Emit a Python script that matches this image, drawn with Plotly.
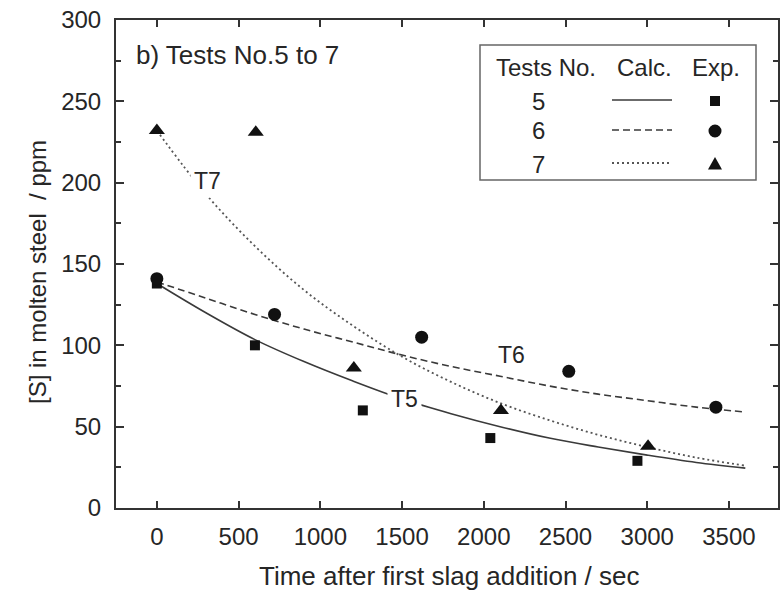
import plotly.graph_objects as go

# ---- data ----
t5_exp = [0, 600, 1260, 2040, 2940]
s5_exp = [138, 100, 60, 43, 29]
t6_exp = [0, 720, 1620, 2520, 3420]
s6_exp = [141, 119, 105, 84, 62]
t7_exp = [0, 605, 1205, 2105, 3005]
s7_exp = [232, 231, 86, 60, 38]

t_calc = [0, 300, 600, 900, 1200, 1500, 1800, 2100, 2400, 2700, 3000, 3300, 3600]
s5_calc = [138, 120, 103.5, 90, 78, 67, 58, 50, 43, 37.5, 32.5, 28, 24.5]
s6_calc = [139, 129, 119, 110, 102, 94, 87, 81, 75, 70, 66, 62, 59]
s7_calc = [232, 193, 161, 134, 112, 93, 77.5, 64.5, 54, 45, 37.5, 31, 26]

tests = ["5", "6", "7"]

FONT = "Liberation Sans, Arial, sans-serif"
TXT = "#262626"
LINE = "#3a3a3a"
MK = "#111111"

fig = go.Figure()

# calculated curves
fig.add_trace(go.Scatter(x=t_calc, y=s5_calc, mode="lines", line=dict(color=LINE, width=1.6, shape="spline"), showlegend=False))
fig.add_trace(go.Scatter(x=t_calc, y=s6_calc, mode="lines", line=dict(color=LINE, width=1.6, dash="7px,4px", shape="spline"), showlegend=False))
fig.add_trace(go.Scatter(x=t_calc, y=s7_calc, mode="lines", line=dict(color="#555555", width=1.8, dash="2px,3px", shape="spline"), showlegend=False))

# experimental points
fig.add_trace(go.Scatter(x=t5_exp, y=s5_exp, mode="markers", marker=dict(symbol="square", size=10, color=MK), showlegend=False))
fig.add_trace(go.Scatter(x=t6_exp, y=s6_exp, mode="markers", marker=dict(symbol="circle", size=13, color=MK), showlegend=False))
fig.add_trace(go.Scatter(x=t7_exp, y=s7_exp, mode="markers", marker=dict(symbol="triangle-up", size=14, color=MK), showlegend=False))

# ---- legend table (paper coords of plot area) ----
W, H, L, T = 662.0, 488.0, 116.0, 20.0
def px(x):
    return (x - L) / W
def py(y):
    return (T + H - y) / H

row_y = [101, 131, 164]
dashes = ["solid", "7px,4px", "2px,3px"]

fig.add_shape(type="rect", xref="paper", yref="paper", x0=px(480), x1=px(756), y0=py(180), y1=py(45),
              line=dict(color="#666666", width=1.5), fillcolor="rgba(0,0,0,0)", layer="above")

ann = []
for txt, cx in [("Tests No.", 546), ("Calc.", 644), ("Exp.", 716)]:
    ann.append(dict(x=px(cx), y=py(67), xref="paper", yref="paper", text=txt, showarrow=False,
                    font=dict(family=FONT, size=24, color=TXT), xanchor="center", yanchor="middle"))
for i, name in enumerate(tests):
    ann.append(dict(x=px(538), y=py(row_y[i]), xref="paper", yref="paper", text=name, showarrow=False,
                    font=dict(family=FONT, size=24, color=TXT), xanchor="center", yanchor="middle"))
    fig.add_shape(type="line", xref="paper", yref="paper", x0=px(612), x1=px(672), y0=py(row_y[i] - 1), y1=py(row_y[i] - 1),
                  line=dict(color=LINE if i < 2 else "#555555", width=1.6 if i < 2 else 1.8, dash=dashes[i]), layer="above")

# legend sample markers
mx = 715
fig.add_shape(type="rect", xref="paper", yref="paper", x0=px(mx - 5), x1=px(mx + 5), y0=py(row_y[0] + 5), y1=py(row_y[0] - 5),
              line=dict(width=0), fillcolor=MK, layer="above")
fig.add_shape(type="circle", xref="paper", yref="paper", x0=px(mx - 6.5), x1=px(mx + 6.5), y0=py(row_y[1] + 6.5), y1=py(row_y[1] - 6.5),
              line=dict(width=0), fillcolor=MK, layer="above")
tri = "M {:.5f},{:.5f} L {:.5f},{:.5f} L {:.5f},{:.5f} Z".format(
    px(mx - 7), py(row_y[2] + 5.5), px(mx + 7), py(row_y[2] + 5.5), px(mx), py(row_y[2] - 7))
fig.add_shape(type="path", xref="paper", yref="paper", path=tri, line=dict(width=0), fillcolor=MK, layer="above")

# curve labels
for txt, x, y in [("T5", 1513, 67), ("T6", 2170, 94), ("T7", 308, 201)]:
    ann.append(dict(x=x, y=y, xref="x", yref="y", text=txt, showarrow=False, bgcolor="white", borderpad=3,
                    font=dict(family=FONT, size=23, color=TXT), xanchor="center", yanchor="middle"))

ann.append(dict(x=px(134), y=py(55), xref="paper", yref="paper", text="b) Tests No.5 to 7", showarrow=False,
                font=dict(family=FONT, size=26, color=TXT), xanchor="left", yanchor="middle"))

# axis titles
ann.append(dict(x=px(449), y=py(576), xref="paper", yref="paper", text="Time after first slag addition / sec",
                showarrow=False, font=dict(family=FONT, size=26, color=TXT), xanchor="center", yanchor="middle"))
ann.append(dict(x=px(37), y=py(272), xref="paper", yref="paper", text="[S] in molten steel\u00a0\u00a0/ ppm",
                textangle=-90, showarrow=False, font=dict(family=FONT, size=24, color=TXT),
                xanchor="center", yanchor="middle"))

axis_common = dict(showline=True, linecolor="#333333", linewidth=2, mirror="ticks", ticks="inside",
                   tickcolor="#333333", tickwidth=1.5, showgrid=False, zeroline=False, automargin=False,
                   tickfont=dict(family=FONT, size=24, color=TXT))

fig.update_layout(
    template="none",
    width=782, height=591,
    margin=dict(l=116, r=4, t=20, b=83),
    paper_bgcolor="white", plot_bgcolor="white",
    xaxis=dict(range=[-250, 3800], tickvals=[0, 500, 1000, 1500, 2000, 2500, 3000, 3500], ticklen=7,
               ticklabelstandoff=6, **axis_common),
    yaxis=dict(range=[0, 300], tickvals=[0, 50, 100, 150, 200, 250, 300], ticklen=8,
               minor=dict(tickvals=[25, 75, 125, 175, 225, 275], ticks="inside", ticklen=5, tickcolor="#333333", tickwidth=1.5),
               ticklabelstandoff=8, **axis_common),
    annotations=ann,
)

fig.write_html("out.html")
